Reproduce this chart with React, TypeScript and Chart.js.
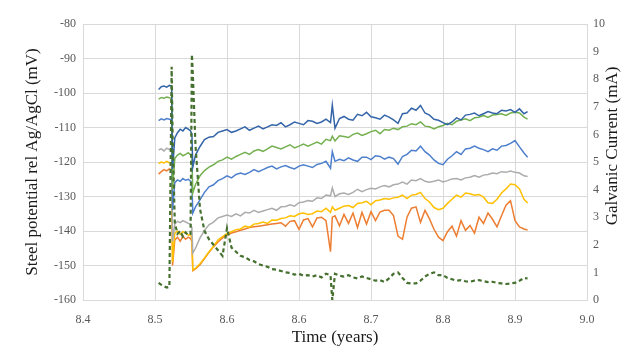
import React, { useEffect, useRef } from "react";
import { Chart, registerables } from "chart.js";

Chart.register(...registerables);

// Time (years)
const time = [
  8.484, 8.487, 8.49, 8.493, 8.496, 8.4985, 8.4995, 8.502, 8.505, 8.508,
  8.511, 8.514, 8.517, 8.5195, 8.521, 8.522, 8.525, 8.53, 8.535, 8.54,
  8.545, 8.55, 8.555, 8.56, 8.565, 8.57, 8.575, 8.58, 8.585, 8.59,
  8.595, 8.6, 8.605, 8.61, 8.615, 8.62, 8.625, 8.63, 8.635, 8.64,
  8.645, 8.65, 8.655, 8.66, 8.665, 8.67, 8.675, 8.677, 8.68, 8.685,
  8.69, 8.695, 8.7, 8.705, 8.71, 8.715, 8.72, 8.725, 8.73, 8.735,
  8.74, 8.745, 8.75, 8.755, 8.76, 8.765, 8.77, 8.775, 8.78, 8.785,
  8.79, 8.795, 8.8, 8.805, 8.81, 8.815, 8.82, 8.825, 8.83, 8.835,
  8.84, 8.845, 8.85, 8.855, 8.86, 8.865, 8.87, 8.875, 8.88, 8.885,
  8.89, 8.894,
];

// Steel potentials (mV)
const darkBlue = [
  -99, -98.2, -98.0, -98.3, -97.8, -98.0, -122, -113, -111.5, -110.5,
  -111, -110, -110.5, -111, -112, -121.5, -118, -115.5, -113.5, -112.8,
  -112.6, -111.4, -111.0, -110.6, -111.4, -111.0, -110.4, -109.8, -110.8, -110.2,
  -109.6, -110.4, -109.8, -109.2, -109.4, -108.6, -109.8, -109.2, -108.4, -108.8,
  -109.2, -108.0, -108.2, -108.8, -108.4, -107.6, -108.6, -103.5, -110.2, -107.4,
  -106.8, -107.6, -107.9, -106.2, -106.6, -105.6, -106.9, -107.2, -107.6, -106.4,
  -107.0, -107.8, -108.8, -106.0, -105.8, -104.4, -105.0, -103.6, -105.8, -106.4,
  -107.6, -107.9, -108.6, -109.2, -108.4, -107.2, -107.8, -106.4, -106.2, -105.8,
  -106.6, -106.0, -105.4, -105.8, -106.0, -105.0, -105.2, -104.8, -105.6, -104.6,
  -106.0, -105.4,
];
const green = [
  -101.8, -101.3, -101.5, -101.2, -101.4, -101.5, -128, -119, -118, -117.5,
  -118.2, -117.8, -117.3, -118, -118.5, -129, -126.5, -124, -122.5, -121.5,
  -120.8, -119.8, -119.4, -118.6, -119.2, -118.4, -117.8, -117.2, -117.8, -116.8,
  -116.4, -116.9, -116.2, -115.4, -115.8, -116.2, -115.6, -115.0, -115.9, -115.4,
  -114.8, -115.4, -114.8, -114.2, -114.8, -113.4, -113.8, -112.5, -113.9, -112.4,
  -112.6, -112.9, -112.0, -111.6, -112.3, -111.8, -111.2, -110.8, -111.8, -110.6,
  -110.8, -110.2, -110.6, -109.8, -109.6, -108.9, -109.2, -108.4, -109.6, -109.8,
  -110.4, -109.8, -109.4, -108.8, -109.2, -108.2, -107.8, -107.5, -108.0, -107.2,
  -107.0, -106.5, -107.1, -106.4, -106.2, -106.0, -106.5, -105.8, -105.6, -105.8,
  -107.0, -107.6,
];
const midBlue = [
  -108.0, -107.5, -107.8, -107.4, -107.6, -107.8, -134, -126, -125.2, -125.6,
  -124.8, -125.3, -125.0, -125.6, -126.2, -134.8, -133, -131, -128.8, -127.2,
  -126.6, -125.4, -124.8, -124.0, -124.6, -123.6, -123.2, -123.6, -123.0, -122.2,
  -122.8, -122.2, -121.6, -121.2, -122.0, -121.4, -121.0, -121.6, -122.0, -121.2,
  -120.8, -121.2, -121.6, -120.7, -120.4, -119.8, -121.8, -117, -119.8, -119.2,
  -119.6, -118.8, -119.4, -119.8, -118.6, -118.6, -119.3, -118.2, -118.4, -119.2,
  -118.6, -119.0, -120.6, -118.4, -117.8, -116.6, -116.8, -115.4, -117.0, -118.0,
  -119.4, -120.4, -120.8, -119.2, -118.2, -117.0, -117.8, -116.2, -116.0, -115.4,
  -116.0, -116.4, -117.0, -116.2, -116.6, -115.4, -115.2, -114.6, -113.8, -115.6,
  -117.4, -118.6,
];
const gray = [
  -116.5, -116.2, -116.8, -116.0, -116.4, -116.6, -143, -138, -137.2, -137.6,
  -137.0, -137.4, -137.8, -138.0, -139.0, -146.4, -145, -142, -139.8, -138.2,
  -137.4, -136.2, -135.8, -135.4, -135.8, -135.0, -135.6, -134.6, -134.8, -134.0,
  -134.6, -134.2, -133.8, -133.4, -134.0, -133.0, -132.9, -132.4, -132.8, -131.8,
  -131.6, -131.2, -131.4, -130.4, -130.6, -129.6, -129.8, -127.5, -130.0, -129.2,
  -129.0, -129.4, -128.8, -127.9, -128.6, -128.0, -127.6, -127.8, -127.2, -126.8,
  -127.2, -126.6, -126.4, -125.8, -126.4, -125.2, -125.4, -124.8, -125.6, -125.9,
  -125.6, -125.2, -125.8, -125.4, -124.9, -124.8, -125.2, -124.6, -124.4, -123.9,
  -124.4, -123.8, -123.6, -123.2, -123.4, -122.8, -123.0, -122.6, -123.0, -123.2,
  -124.0, -124.2,
];
const yellow = [
  -120.5, -120.0, -120.3, -119.8, -120.2, -120.4, -149, -140.6, -140.0, -141.0,
  -140.2, -140.6, -141.2, -141.0, -142, -151.3, -150.8, -149.5, -147.8, -146.0,
  -144.4, -142.6, -141.6, -140.8, -140.2, -139.6, -139.4, -138.6, -138.9, -138.0,
  -137.8, -137.4, -137.8, -136.8, -136.9, -136.4, -136.2, -135.6, -135.8, -135.0,
  -134.8, -135.2, -135.0, -134.2, -134.4, -133.4, -134.6, -133.0, -134.0, -133.4,
  -132.8, -132.6, -133.2, -132.0, -131.8, -131.4, -132.4, -131.2, -131.0, -130.6,
  -130.8, -130.4, -130.2, -129.6, -130.6, -129.6, -129.4, -128.8, -130.6, -131.6,
  -133.2, -133.8, -133.4, -132.0, -130.8, -129.6, -130.2, -129.0, -129.2, -129.6,
  -129.4, -130.2, -131.8, -132.0, -130.8, -129.0, -127.8, -126.4, -126.6, -127.8,
  -130.8, -131.9,
];
const orange = [
  -123.5, -122.8, -122.2, -122.6, -122.0, -122.4, -150, -142.6, -141.8, -143.0,
  -141.5, -142.4, -141.8, -142.2, -143, -151.5, -151.0, -149.8, -148.0, -146.2,
  -144.6, -143.2, -142.0, -141.2, -140.6, -140.2, -139.8, -139.4, -139.0, -138.8,
  -138.6, -138.4, -138.2, -138.0, -137.8, -137.6, -138.6, -137.2, -137.0, -139.5,
  -136.8, -136.4, -138.8, -136.2, -136.0, -137.0, -146, -136.0, -135.6, -138.5,
  -135.2, -137.8, -134.8, -139.0, -134.6, -138.0, -134.4, -137.0, -134.5, -134.0,
  -134.0, -135.5, -141.5, -142.4, -136.0, -133.4, -133.0, -137.5, -134.0, -136.5,
  -139.5, -141.8, -142.8, -140.2, -138.6, -141.5, -137.0, -139.8, -138.4, -140.6,
  -136.0, -137.8, -134.8, -136.6, -138.8, -135.6, -132.5, -131.2, -137.0, -138.8,
  -139.4, -139.7,
];

// Galvanic current (mA)
const current = [
  0.62, 0.55, 0.5, 0.45, 0.48, 8.45, 6.0, 2.8, 2.4, 2.5,
  2.3, 2.45, 2.35, 2.4, 8.9, 8.2, 5.6, 3.3, 2.5, 2.2,
  2.0, 1.8, 1.6, 2.6, 1.9, 1.75, 1.6, 1.55, 1.45, 1.4,
  1.3, 1.25, 1.2, 1.12, 1.1, 1.05, 1.0, 0.98, 0.92, 0.95,
  0.88, 0.9, 0.85, 0.9, 0.82, 0.95, 0.9, 0.0, 0.95, 0.88,
  0.85, 0.9, 0.82, 0.78, 0.85, 0.8, 0.75, 0.7, 0.72, 0.65,
  0.78, 0.95, 1.0, 0.8, 0.62, 0.6, 0.6, 0.7, 0.85, 0.95,
  1.0, 0.9, 0.9, 0.8, 0.75, 0.7, 0.72, 0.68, 0.66, 0.7,
  0.72, 0.68, 0.65, 0.66, 0.62, 0.6, 0.58, 0.6, 0.62, 0.7,
  0.8, 0.78,
];

const xTicks = [8.4, 8.48, 8.56, 8.64, 8.72, 8.8, 8.88, 8.96];
const xTitle = "Time (years)";
const yTitleLeft = "Steel potential rel Ag/AgCl (mV)";
const yTitleRight = "Galvanic Current (mA)";

const SERIF = '"Liberation Serif", "Times New Roman", serif';
const GRID = "#d9d9d9";
const TICK = "#595959";
const TITLE = "#1a1a1a";

export default function App() {
  const ref = useRef<HTMLCanvasElement>(null);

  useEffect(() => {
    if (!ref.current) return;
    const pts = (vals: number[]) => time.map((t, i) => ({ x: t, y: vals[i] }));

    const rightTitle = {
      id: "rightTitle",
      afterDraw(chart: any) {
        const { ctx, chartArea } = chart;
        ctx.save();
        ctx.translate(chartArea.right + 26, (chartArea.top + chartArea.bottom) / 2 - 16);
        ctx.rotate(-Math.PI / 2);
        ctx.font = `17px ${SERIF}`;
        ctx.fillStyle = TITLE;
        ctx.textAlign = "center";
        ctx.textBaseline = "middle";
        ctx.fillText(yTitleRight, 0, 0);
        ctx.restore();
      },
    };

    const line = (vals: number[], color: string, order: number) => ({
      data: pts(vals),
      borderColor: color,
      backgroundColor: color,
      borderWidth: 1.5,
      pointRadius: 0,
      tension: 0,
      yAxisID: "y",
      order,
    });

    const chart = new Chart(ref.current, {
      type: "line",
      data: {
        datasets: [
          {
            data: pts(current),
            borderColor: "#45702f",
            backgroundColor: "#45702f",
            borderWidth: 2.2,
            borderDash: [4, 3],
            pointRadius: 0,
            tension: 0,
            yAxisID: "y1",
            order: 0,
          },
          line(darkBlue, "#3465a8", 1),
          line(green, "#74b050", 2),
          line(midBlue, "#4d7fcc", 3),
          line(gray, "#acacac", 4),
          line(yellow, "#ffc000", 5),
          line(orange, "#ed7d31", 6),
        ] as any,
      },
      options: {
        responsive: true,
        maintainAspectRatio: false,
        animation: false,
        layout: { padding: { top: 24, left: 0, right: 0, bottom: 0 } },
        plugins: { legend: { display: false }, tooltip: { enabled: false } },
        scales: {
          x: {
            type: "linear",
            min: 8.4,
            max: 8.96,
            afterBuildTicks: (s: any) => {
              s.ticks = xTicks.map((v) => ({ value: v }));
            },
            afterFit: (s: any) => {
              s.height = 49;
            },
            ticks: {
              callback: (v: any) => Number(v).toFixed(1),
              font: { family: SERIF, size: 12 },
              color: TICK,
              padding: 13,
              maxRotation: 0,
              autoSkip: false,
            },
            grid: { color: GRID, drawTicks: false },
            border: { color: GRID },
            title: {
              display: true,
              text: xTitle,
              font: { family: SERIF, size: 17 },
              color: TITLE,
              padding: { top: 0, bottom: 1 },
            },
          },
          y: {
            position: "left",
            min: -160,
            max: -80,
            afterFit: (s: any) => {
              s.width = 83;
            },
            ticks: {
              stepSize: 10,
              font: { family: SERIF, size: 12 },
              color: TICK,
              padding: 7,
            },
            grid: { color: GRID, drawTicks: false },
            border: { color: GRID },
            title: {
              display: true,
              text: yTitleLeft,
              font: { family: SERIF, size: 17 },
              color: TITLE,
              padding: { top: 22, bottom: 0 },
            },
          },
          y1: {
            position: "right",
            min: 0,
            max: 10,
            afterFit: (s: any) => {
              s.width = 50;
            },
            ticks: {
              stepSize: 1,
              font: { family: SERIF, size: 12 },
              color: TICK,
              padding: 6,
            },
            grid: { drawOnChartArea: false, drawTicks: false },
            border: { color: GRID },
          },
        },
      } as any,
      plugins: [rightTitle],
    });

    return () => chart.destroy();
  }, []);

  return (
    <div style={{ position: "absolute", left: 0, top: 0, width: 637, height: 349, background: "#fff" }}>
      <canvas ref={ref} />
    </div>
  );
}
